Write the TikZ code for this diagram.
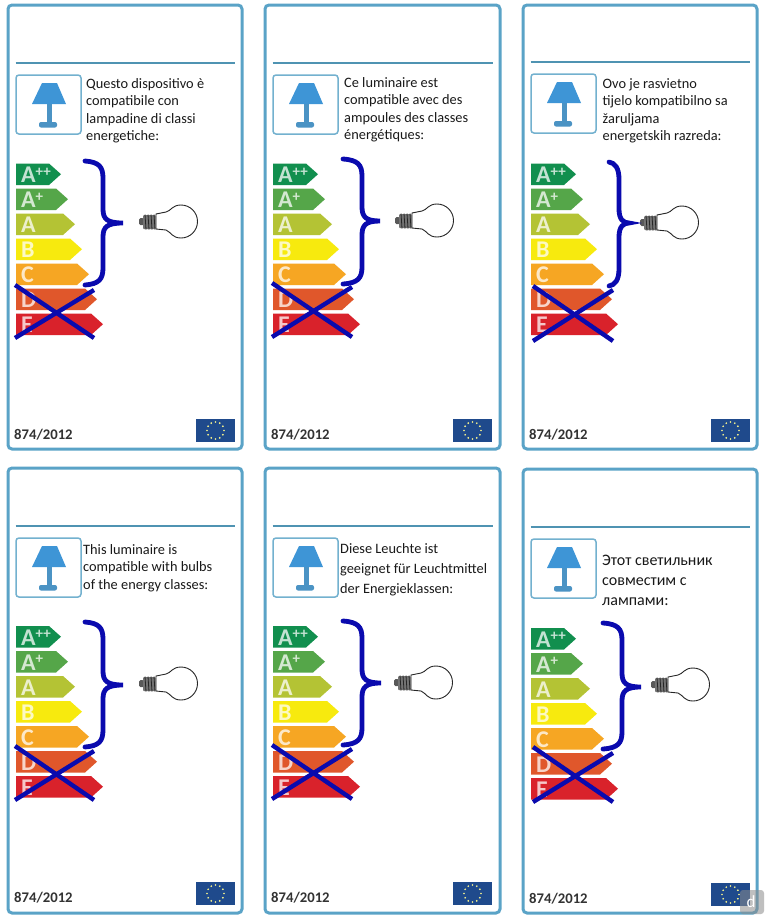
\documentclass[tikz,border=0pt]{standalone}
\usepackage{fontspec}
\setmainfont{Carlito}
\usetikzlibrary{positioning}

\definecolor{framecol}{HTML}{5AA3C7}
\definecolor{rulecol}{HTML}{4F93B2}
\definecolor{shadecol}{HTML}{3E95D6}
\definecolor{stemcol}{HTML}{4B93C4}
\definecolor{markcol}{HTML}{0A0AAE}
\definecolor{flagcol}{HTML}{1F4A8C}
\definecolor{clsa}{HTML}{118F4E}
\definecolor{clsb}{HTML}{55A649}
\definecolor{clsc}{HTML}{B4C334}
\definecolor{clsd}{HTML}{F7EA0E}
\definecolor{clse}{HTML}{F6A623}
\definecolor{clsf}{HTML}{E0572B}
\definecolor{clsg}{HTML}{D9222B}

\newcommand{\plusup}[1]{\raisebox{.55ex}{\fontsize{15}{15}\selectfont #1}}

\tikzset{
  cardframe/.style={draw=framecol, line width=3pt, rounded corners=4pt},
  cardrule/.style={draw=rulecol, line width=1.4pt},
  cardtext/.style={anchor=north west, inner sep=0pt, align=left, text=black!90, font=\fontsize{14.35}{17.6}\selectfont},
  yeartext/.style={anchor=west, inner sep=0pt, text=black!80, font=\fontsize{14.7}{15}\selectfont\bfseries},
  clsletter/.style={anchor=west, inner sep=0pt, text=white, text opacity=.75, font=\fontsize{24}{24}\selectfont\bfseries},
  bluemark/.style={draw=markcol, line width=4.4pt},
  bluebrace/.style={draw=markcol, line width=4.8pt, line cap=round},
  lampicon/.pic={
    \draw[draw=framecol!85, line width=1.5pt, fill=white, rounded corners=3pt] (0,0) rectangle (65,59);
    \fill[stemcol] (31,25) rectangle (36,48);
    \fill[stemcol, rounded corners=2pt] (23,47) rectangle (41,52.5);
    \fill[shadecol] (26,8) -- (41,8) -- (50,29) -- (16,29) -- cycle;
  },
  clsbars/.pic={
    \foreach \cls/\len/\col [count=\row from 0] in
      {{A\plusup{++}}/45/clsa, {A\plusup{+}}/52/clsb, A/59/clsc, B/66/clsd, C/73/clse, D/81/clsf, E/87/clsg}{
      \fill[\col] (0,25*\row) -- (\len-12,25*\row) -- (\len,25*\row+10.7) -- (\len-12,25*\row+21.5) -- (0,25*\row+21.5) -- cycle;
      \node[clsletter] (bar\row) at (5,25*\row+11.5) {\cls};
    }
  },
  bulbicon/.pic={
    \draw[black!85, line width=.9pt, fill=white] (18,-8) -- (28,-10)
      .. controls (33,-11) and (34,-17) .. (43,-17)
      arc[start angle=-90, end angle=90, radius=16.5]
      .. controls (34,16) and (33,10) .. (28,8) -- (18,7) -- cycle;
    \fill[black!65, rounded corners=1.5pt] (1,-4) rectangle (6,3);
    \fill[black!55, rounded corners=1pt] (5,-7) rectangle (18,7);
    \foreach \tx in {7,10,13,16}
      \draw[black!85, line width=.8pt] (\tx,-7.5) -- (\tx+1,7.5);
  },
  eubadge/.pic={
    \fill[flagcol] (0,0) rectangle (39,23);
    \foreach \ang in {0,30,...,330}
      \fill[yellow!45!white] (19.5,11.5) ++(\ang:8.5) circle (.9);
  },
}

\begin{document}
\begin{tikzpicture}[x=1pt, y=-1pt]
  \useasboundingbox (0,0) rectangle (768,919);
  \fill[white] (0,0) rectangle (768,919);

  % frames with their rules
  \foreach \xa/\xb/\ya/\yb/\yr in {8/242/5/449/63, 265/500/5/449/63, 523/757/5/449/62, 8/242/468/913/526, 265/500/468/913/526, 523/757/469/913/527}{
    \draw[cardframe] (\xa,\ya) rectangle (\xb,\yb);
    \draw[cardrule] (\xa+7.5,\yr) -- (\xb-7,\yr);
  }

  \foreach \xa/\ya [count=\n] in {16/75, 273/75, 531/74, 16/538, 273/538, 531/539}
    \pic (lamp\n) at (\xa,\ya) {lampicon};

  \foreach \xa/\ya [count=\n] in {16/163.5, 273/163.5, 531/163.5, 16/626, 273/626, 531/628}
    \pic (bars\n) at (\xa,\ya) {clsbars};

  \foreach \xa/\ya [count=\n] in {138/222, 394/221, 639/223, 138/684, 393/683, 650/685}
    \pic (bulb\n) at (\xa,\ya) {bulbicon};

  % start, spine, tip, end
  \foreach \xs/\ys/\xv/\xt/\yt/\ye in {85/161/103/123/223/285, 343/159/362/380/221/284, 609/162/619/629/223/286, 85/622/103/123/685/747, 343/621/362/381/683/745, 603/623/622/641/687/749}{
    \draw[bluebrace] (\xs,\ys) .. controls (\xv-4,\ys+1) and (\xv,\ys+6) .. (\xv,\ys+17)
      -- (\xv,\yt-14) .. controls (\xv,\yt-4) and (\xv+4,\yt) .. (\xt,\yt)
      .. controls (\xv+4,\yt) and (\xv,\yt+4) .. (\xv,\yt+14)
      -- (\xv,\ye-17) .. controls (\xv,\ye-6) and (\xv-4,\ye-1) .. (\xs,\ye);
  }

  \foreach \xa/\xb/\ya/\yb/\yc in {15/94/285/338/290, 272/352/283/337/287, 533/613/286/341/290, 15/94/746/800/751, 272/352/745/799/749, 533/613/747/802/753}{
    \draw[bluemark] (\xa,\ya) -- (\xb,\yb);
    \draw[bluemark] (\xa,\yb) -- (\xb,\yc);
  }

  \foreach \xa/\ya/\xf/\yf [count=\n] in {14/434.5/196/419, 271/434.5/453/419, 529/434.5/711/419, 14/897.5/196/882, 271/897.5/453/882, 529/898.5/711/883}{
    \node[yeartext] (year\n) at (\xa,\ya) {874/2012};
    \pic (flag\n) at (\xf,\yf) {eubadge};
  }

  \node[cardtext] (textit) at (86,78) {Questo dispositivo è\\compatibile con\\lampadine di classi\\energetiche:};
  \node[cardtext] (textfr) at (344,77) {Ce luminaire est\\compatible avec des\\ampoules des classes\\énergétiques:};
  \node[cardtext] (texthr) at (602.5,78) {Ovo je rasvietno\\tijelo kompatibilno sa\\žaruljama\\energetskih razreda:};
  \node[cardtext] (texten) at (83,544) {This luminaire is\\compatible with bulbs\\of the energy classes:};
  \node[cardtext, font=\fontsize{14.35}{20}\selectfont] (textde) at (340,543) {Diese Leuchte ist\\geeignet für Leuchtmittel\\der Energieklassen:};
  \node[cardtext, font=\fontsize{16}{20}\selectfont] (textru) at (602,555) {Этот светильник\\совместим с\\лампами:};

  \fill[black!45, fill opacity=.55, rounded corners=3pt] (740,890) rectangle (764,914);
  \node[inner sep=0pt, text=white, font=\fontsize{17}{17}\selectfont] (mark) at (751,902) {d};
\end{tikzpicture}
\end{document}
